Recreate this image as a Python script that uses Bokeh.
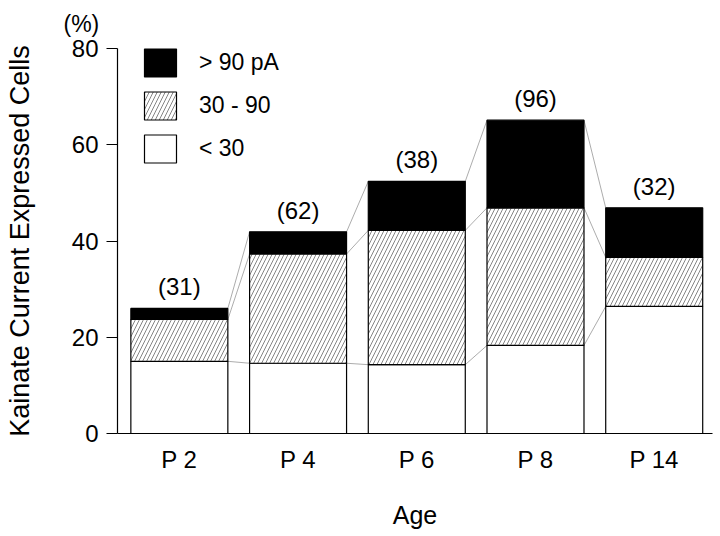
from bokeh.plotting import figure
from bokeh.models import ColumnDataSource, Legend, LegendItem, LabelSet, FixedTicker
from bokeh.core.properties import value
from bokeh.embed import file_html
from bokeh.resources import INLINE

# ---- data ----
ages = ["P 2", "P 4", "P 6", "P 8", "P 14"]
n_cells = ["(31)", "(62)", "(38)", "(96)", "(32)"]
low = [15.0, 14.6, 14.3, 18.3, 26.4]    # < 30 pA
mid = [8.7, 22.7, 27.9, 28.6, 10.2]     # 30 - 90 pA
high = [2.3, 4.6, 10.2, 18.2, 10.3]     # > 90 pA
y_ticks = [0, 20, 40, 60, 80]

FONT = "Liberation Sans"
BAR_W = 0.817

xs = list(range(1, len(ages) + 1))
c1 = low
c2 = [a + b for a, b in zip(low, mid)]
c3 = [a + b for a, b in zip(c2, high)]

src = ColumnDataSource(dict(x=xs, c0=[0] * len(xs), c1=c1, c2=c2, c3=c3,
                            n=n_cells))

p = figure(width=720, height=536, output_backend="svg", toolbar_location=None,
           x_range=(0.479, 5.491), y_range=(0, 80),
           min_border_left=117, min_border_right=8, min_border_top=48,
           min_border_bottom=103)
p.outline_line_color = None
p.grid.visible = False
p.background_fill_color = "white"
p.border_fill_color = "white"

# unit label above the y axis
p.title.text = "(%)"
p.title.align = "left"
p.title.vertical_align = "top"
p.title.offset = -54
p.title.standoff = 20
p.title.text_font = FONT
p.title.text_font_size = "23px"
p.title.text_font_style = "normal"
p.title.text_color = "black"

# connecting lines between adjacent bars
for level in (c1, c2, c3):
    p.segment(x0=[x + BAR_W / 2 for x in xs[:-1]], y0=level[:-1],
              x1=[x - BAR_W / 2 for x in xs[1:]], y1=level[1:],
              line_color="#888888", line_width=0.7)

r_low = p.vbar(x="x", bottom="c0", top="c1", width=BAR_W, source=src,
               fill_color="white", line_color="black", line_width=1.2)
r_mid = p.vbar(x="x", bottom="c1", top="c2", width=BAR_W, source=src,
               fill_color="white", line_color="black", line_width=1.2,
               hatch_pattern="/", hatch_scale=8, hatch_weight=0.6,
               hatch_color="#333333")
r_high = p.vbar(x="x", bottom="c2", top="c3", width=BAR_W, source=src,
                fill_color="black", line_color="black", line_width=1.2)

p.add_layout(LabelSet(x="x", y="c3", text="n", source=src, y_offset=8,
                      text_align="center", text_baseline="bottom",
                      text_font=value(FONT), text_font_size=value("24px"),
                      text_color="black"))

legend = Legend(items=[LegendItem(label="> 90 pA", renderers=[r_high]),
                       LegendItem(label="30 - 90", renderers=[r_mid]),
                       LegendItem(label="< 30", renderers=[r_low])],
                location=(23, 267), orientation="vertical",
                glyph_width=40, glyph_height=35, label_height=35,
                label_width=110,
                spacing=8, label_standoff=19, padding=0, margin=0,
                border_line_color=None, background_fill_alpha=0,
                label_text_font=FONT, label_text_font_size="23px",
                label_text_color="black")
p.add_layout(legend)

# y axis
ya = p.yaxis[0]
ya.ticker = FixedTicker(ticks=y_ticks)
ya.axis_label = "Kainate Current Expressed Cells"
ya.axis_label_text_font = FONT
ya.axis_label_text_font_size = "27px"
ya.axis_label_text_font_style = "normal"
ya.axis_label_text_color = "black"
ya.axis_label_standoff = 34
ya.major_label_text_font = FONT
ya.major_label_text_font_size = "24px"
ya.major_label_text_color = "black"
ya.major_label_standoff = 8
ya.major_tick_out = 11
ya.major_tick_in = 0
ya.minor_tick_out = 0
ya.minor_tick_in = 0
ya.axis_line_width = 1.2
ya.axis_line_color = "black"
ya.major_tick_line_color = "black"

# x axis
xa = p.xaxis[0]
xa.ticker = FixedTicker(ticks=xs)
xa.major_label_overrides = {x: a for x, a in zip(xs, ages)}
xa.axis_label = "Age"
xa.axis_label_text_font = FONT
xa.axis_label_text_font_size = "25px"
xa.axis_label_text_font_style = "normal"
xa.axis_label_text_color = "black"
xa.axis_label_standoff = 25
xa.major_label_text_font = FONT
xa.major_label_text_font_size = "24px"
xa.major_label_text_color = "black"
xa.major_label_standoff = 12
xa.major_tick_out = 0
xa.major_tick_in = 0
xa.minor_tick_out = 0
xa.minor_tick_in = 0
xa.axis_line_width = 1.2
xa.axis_line_color = "black"

open("out.html", "w").write(file_html(p, INLINE))
